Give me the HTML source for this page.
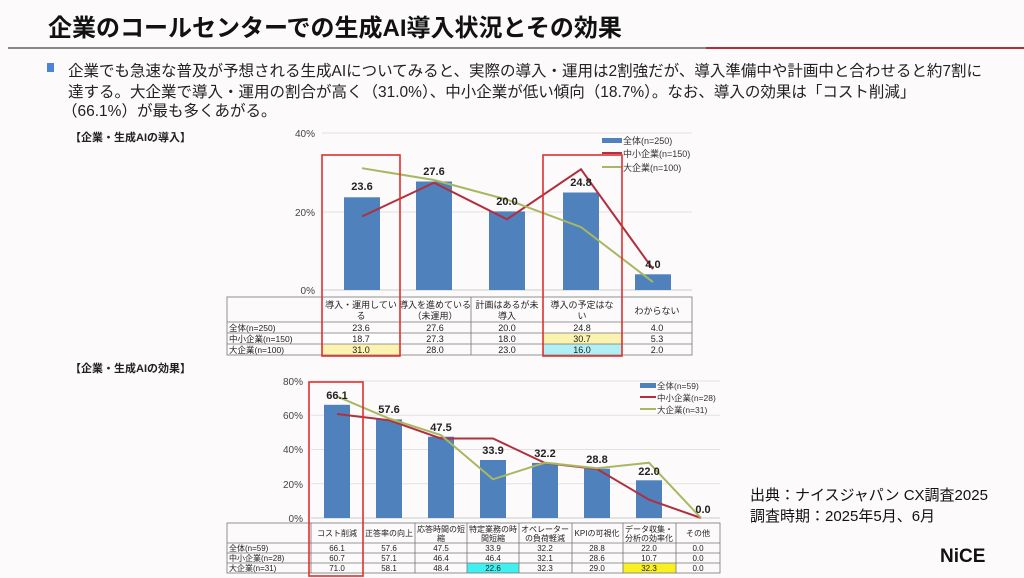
<!DOCTYPE html>
<html><head><meta charset="utf-8"><style>
html,body{margin:0;padding:0;background:#fcfafa;}
svg{display:block;font-family:"Liberation Sans","Noto Sans CJK JP",sans-serif;}
</style></head><body>
<svg width="1024" height="578" viewBox="0 0 1024 578" xmlns="http://www.w3.org/2000/svg">
<rect width="1024" height="578" fill="#fcfafa"/>
<text x="48" y="36" font-size="24" font-weight="bold" fill="#111">企業のコールセンターでの生成AI導入状況とその効果</text>
<rect x="8" y="47" width="698" height="2" fill="#888"/>
<rect x="706" y="47" width="318" height="2" fill="#b0303a"/>
<rect x="47" y="63" width="7" height="9" fill="#4a86d8"/>
<g font-size="15.5" fill="#222">
<text x="68" y="76">企業でも急速な普及が予想される生成AIについてみると、実際の導入・運用は2割強だが、導入準備中や計画中と合わせると約7割に</text>
<text x="68" y="97">達する。大企業で導入・運用の割合が高く（31.0%）、中小企業が低い傾向（18.7%）。なお、導入の効果は「コスト削減」</text>
<text x="62" y="116">（66.1%）が最も多くあがる。</text>
</g>
<text x="70" y="141" font-size="11" font-weight="bold" fill="#222">【企業・生成AIの導入】</text>
<text x="70" y="372" font-size="11" font-weight="bold" fill="#222">【企業・生成AIの効果】</text>

<!-- chart1 -->
<g font-size="10" fill="#444">
<line x1="322" y1="133" x2="692" y2="133" stroke="#e6e0e0"/>
<line x1="322" y1="212" x2="692" y2="212" stroke="#e6e0e0"/>
<line x1="322" y1="290" x2="692" y2="290" stroke="#ccc"/>
<text x="315" y="137" text-anchor="end">40%</text>
<text x="315" y="216" text-anchor="end">20%</text>
<text x="315" y="294" text-anchor="end">0%</text>
</g>
<g fill="#4f81bd">
<rect x="344" y="197.3" width="36" height="92.7"/>
<rect x="416" y="181.5" width="36" height="108.5"/>
<rect x="489" y="211.4" width="36" height="78.6"/>
<rect x="563" y="192.5" width="36" height="97.5"/>
<rect x="635" y="274.3" width="36" height="15.7"/>
</g>
<polyline points="362,216.5 434,182.7 507,219.3 581,169.3 653,269.2" fill="none" stroke="#b03040" stroke-width="2"/>
<polyline points="362,168.2 434,180 507,199.6 581,227.1 653,282.1" fill="none" stroke="#a8b860" stroke-width="2"/>
<g font-size="11" font-weight="bold" fill="#222" text-anchor="middle">
<text x="362" y="190">23.6</text><text x="434" y="175">27.6</text><text x="507" y="205">20.0</text><text x="581" y="186">24.8</text><text x="653" y="268">4.0</text>
</g>
<g font-size="9" fill="#333">
<rect x="602" y="138" width="20" height="5" fill="#4f81bd"/><text x="623" y="144">全体(n=250)</text>
<line x1="602" y1="153" x2="622" y2="153" stroke="#b03040" stroke-width="2"/><text x="623" y="157">中小企業(n=150)</text>
<line x1="602" y1="167" x2="622" y2="167" stroke="#a8b860" stroke-width="2"/><text x="623" y="171">大企業(n=100)</text>
</g>
<!-- table1 -->
<rect x="322" y="333" width="78" height="11" fill="#fff"/>
<rect x="322" y="344" width="78" height="11" fill="#fdf3b0"/>
<rect x="543" y="333" width="79" height="11" fill="#fdf3b0"/>
<rect x="543" y="344" width="79" height="11" fill="#b0f0f4"/>
<g stroke="#777" stroke-width="0.8" fill="none">
<rect x="227" y="297" width="465" height="58"/>
<line x1="227" y1="322" x2="692" y2="322"/><line x1="227" y1="333" x2="692" y2="333"/><line x1="227" y1="344" x2="692" y2="344"/>
<line x1="322" y1="297" x2="322" y2="355"/><line x1="400" y1="297" x2="400" y2="355"/><line x1="471" y1="297" x2="471" y2="355"/><line x1="543" y1="297" x2="543" y2="355"/><line x1="622" y1="297" x2="622" y2="355"/>
</g>
<g font-size="9" fill="#222" text-anchor="middle">
<text x="361" y="308">導入・運用してい</text><text x="361" y="319">る</text>
<text x="435" y="308">導入を進めている</text><text x="435" y="319">（未運用）</text>
<text x="507" y="308">計画はあるが未</text><text x="507" y="319">導入</text>
<text x="582" y="308">導入の予定はな</text><text x="582" y="319">い</text>
<text x="657" y="314">わからない</text>
<text x="361" y="331">23.6</text><text x="435" y="331">27.6</text><text x="507" y="331">20.0</text><text x="582" y="331">24.8</text><text x="657" y="331">4.0</text>
<text x="361" y="342">18.7</text><text x="435" y="342">27.3</text><text x="507" y="342">18.0</text><text x="582" y="342">30.7</text><text x="657" y="342">5.3</text>
<text x="361" y="353">31.0</text><text x="435" y="353">28.0</text><text x="507" y="353">23.0</text><text x="582" y="353">16.0</text><text x="657" y="353">2.0</text>
</g>
<g font-size="8.5" fill="#222">
<text x="229" y="331">全体(n=250)</text><text x="229" y="342">中小企業(n=150)</text><text x="229" y="353">大企業(n=100)</text>
</g>
<rect x="322" y="155" width="78" height="201" fill="none" stroke="#e03030" stroke-width="1.6"/>
<rect x="543" y="155" width="79" height="201" fill="none" stroke="#e03030" stroke-width="1.6"/>

<!-- chart2 -->
<g font-size="10" fill="#444">
<line x1="311" y1="381" x2="720" y2="381" stroke="#e6e0e0"/>
<line x1="311" y1="415.3" x2="720" y2="415.3" stroke="#e6e0e0"/>
<line x1="311" y1="449.5" x2="720" y2="449.5" stroke="#e6e0e0"/>
<line x1="311" y1="483.8" x2="720" y2="483.8" stroke="#e6e0e0"/>
<line x1="311" y1="518" x2="720" y2="518" stroke="#ccc"/>
<text x="303" y="385" text-anchor="end">80%</text>
<text x="303" y="419" text-anchor="end">60%</text>
<text x="303" y="453" text-anchor="end">40%</text>
<text x="303" y="488" text-anchor="end">20%</text>
<text x="303" y="522" text-anchor="end">0%</text>
</g>
<g fill="#4f81bd">
<rect x="324" y="404.8" width="26" height="113.2"/>
<rect x="376" y="419.4" width="26" height="98.6"/>
<rect x="428" y="436.7" width="26" height="81.3"/>
<rect x="480" y="460" width="26" height="58"/>
<rect x="532" y="462.9" width="26" height="55.1"/>
<rect x="584" y="468.7" width="26" height="49.3"/>
<rect x="636" y="480.3" width="26" height="37.7"/>
</g>
<polyline points="337,414 389,420.2 441,438.5 493,438.5 545,463 597,469 649,499.7 701,518" fill="none" stroke="#b03040" stroke-width="2"/>
<polyline points="337,396.4 389,418.5 441,435.1 493,479.3 545,462.7 597,468.3 649,462.7 701,518" fill="none" stroke="#a8b860" stroke-width="2"/>
<g font-size="11" font-weight="bold" fill="#222" text-anchor="middle">
<text x="337" y="399">66.1</text><text x="389" y="413">57.6</text><text x="441" y="431">47.5</text><text x="493" y="454">33.9</text><text x="545" y="457">32.2</text><text x="597" y="463">28.8</text><text x="649" y="475">22.0</text><text x="703" y="513">0.0</text>
</g>
<g font-size="8.5" fill="#333">
<rect x="640" y="383" width="16" height="5" fill="#4f81bd"/><text x="657" y="389">全体(n=59)</text>
<line x1="640" y1="397" x2="656" y2="397" stroke="#b03040" stroke-width="2"/><text x="657" y="401">中小企業(n=28)</text>
<line x1="640" y1="409" x2="656" y2="409" stroke="#a8b860" stroke-width="2"/><text x="657" y="413">大企業(n=31)</text>
</g>
<rect x="467" y="563" width="52" height="10" fill="#40f0f0"/>
<rect x="623" y="563" width="53" height="10" fill="#f8f020"/>
<g stroke="#777" stroke-width="0.8" fill="none">
<rect x="227" y="523" width="493" height="50"/>
<line x1="227" y1="543" x2="720" y2="543"/><line x1="227" y1="553" x2="720" y2="553"/><line x1="227" y1="563" x2="720" y2="563"/>
<line x1="311" y1="523" x2="311" y2="573"/><line x1="363" y1="523" x2="363" y2="573"/><line x1="415" y1="523" x2="415" y2="573"/><line x1="467" y1="523" x2="467" y2="573"/><line x1="519" y1="523" x2="519" y2="573"/><line x1="572" y1="523" x2="572" y2="573"/><line x1="623" y1="523" x2="623" y2="573"/><line x1="676" y1="523" x2="676" y2="573"/>
</g>
<g font-size="8" fill="#222" text-anchor="middle">
<text x="337" y="536">コスト削減</text>
<text x="389" y="536">正答率の向上</text>
<text x="441" y="532">応答時間の短</text><text x="441" y="541">縮</text>
<text x="493" y="532">特定業務の時</text><text x="493" y="541">間短縮</text>
<text x="545" y="532">オペレーター</text><text x="545" y="541">の負荷軽減</text>
<text x="597" y="536">KPIの可視化</text>
<text x="649" y="532">データ収集・</text><text x="649" y="541">分析の効率化</text>
<text x="698" y="536">その他</text>
<text x="337" y="551">66.1</text><text x="389" y="551">57.6</text><text x="441" y="551">47.5</text><text x="493" y="551">33.9</text><text x="545" y="551">32.2</text><text x="597" y="551">28.8</text><text x="649" y="551">22.0</text><text x="698" y="551">0.0</text>
<text x="337" y="561">60.7</text><text x="389" y="561">57.1</text><text x="441" y="561">46.4</text><text x="493" y="561">46.4</text><text x="545" y="561">32.1</text><text x="597" y="561">28.6</text><text x="649" y="561">10.7</text><text x="698" y="561">0.0</text>
<text x="337" y="571">71.0</text><text x="389" y="571">58.1</text><text x="441" y="571">48.4</text><text x="493" y="571">22.6</text><text x="545" y="571">32.3</text><text x="597" y="571">29.0</text><text x="649" y="571">32.3</text><text x="698" y="571">0.0</text>
</g>
<g font-size="8" fill="#222">
<text x="229" y="551">全体(n=59)</text><text x="229" y="561">中小企業(n=28)</text><text x="229" y="571">大企業(n=31)</text>
</g>
<rect x="309" y="382" width="54" height="194" fill="none" stroke="#e03030" stroke-width="1.6"/>

<g font-size="15" fill="#111">
<text x="750" y="500">出典：ナイスジャパン CX調査2025</text>
<text x="750" y="521">調査時期：2025年5月、6月</text>
</g>
<text x="940" y="562" font-size="19" font-weight="bold" fill="#111">NiCE</text>
</svg>
</body></html>
